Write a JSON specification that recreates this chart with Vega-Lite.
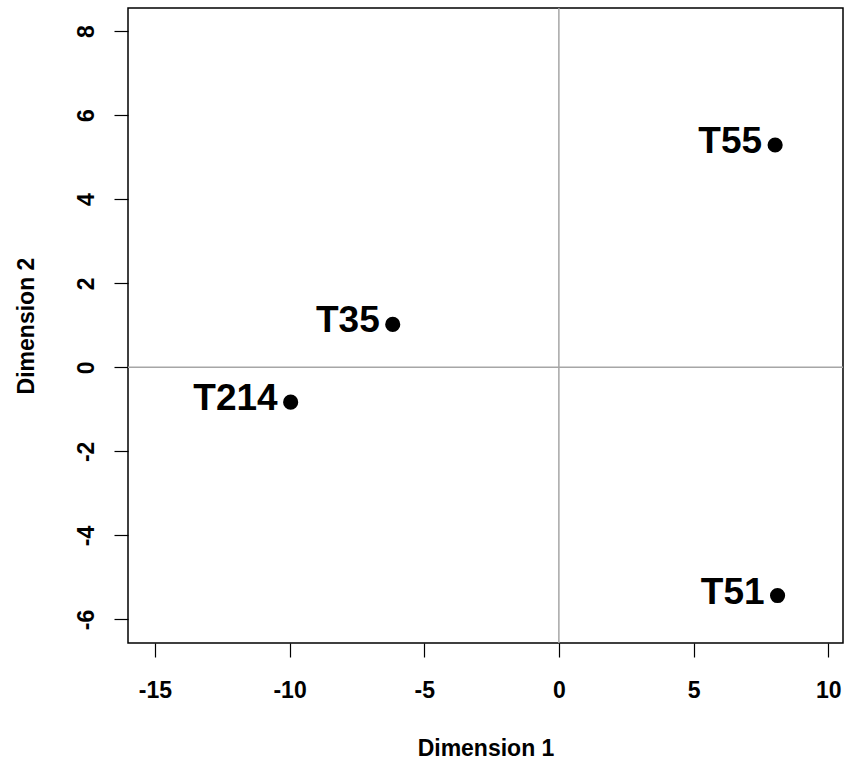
{
  "$schema": "https://vega.github.io/schema/vega-lite/v6.json",
  "width": 715,
  "height": 635,
  "autosize": "none",
  "padding": {"left": 128, "top": 8, "right": 1, "bottom": 118},
  "background": "white",
  "config": {
    "view": {"stroke": "black", "strokeWidth": 1.5},
    "font": "Liberation Sans",
    "axis": {
      "grid": false,
      "domain": false,
      "tickColor": "black",
      "tickSize": 14,
      "tickWidth": 1.2,
      "labelFont": "Liberation Sans",
      "labelFontSize": 23,
      "labelFontWeight": "bold",
      "labelColor": "black",
      "titleFont": "Liberation Sans",
      "titleFontSize": 23,
      "titleFontWeight": "bold",
      "titleColor": "black",
      "labelFlush": false,
      "labelOverlap": false,
      "labelExpr": "'' + datum.value"
    }
  },
  "data": {
    "values": [
      {"label": "T55", "d1": 8.03, "d2": 5.29},
      {"label": "T35", "d1": -6.17, "d2": 1.02},
      {"label": "T214", "d1": -9.96, "d2": -0.83},
      {"label": "T51", "d1": 8.12, "d2": -5.43}
    ]
  },
  "layer": [
    {
      "data": {"values": [{"z": 0}]},
      "mark": {"type": "rule", "color": "#a6a6a6", "strokeWidth": 1.5},
      "encoding": {"x": {"field": "z", "type": "quantitative", "scale": {"domain": [-16.0, 10.55], "nice": false, "zero": false}}}
    },
    {
      "data": {"values": [{"z": 0}]},
      "mark": {"type": "rule", "color": "#a6a6a6", "strokeWidth": 1.5},
      "encoding": {"y": {"field": "z", "type": "quantitative", "scale": {"domain": [-6.56, 8.55], "nice": false, "zero": false}}}
    },
    {
      "mark": {"type": "point", "filled": true, "color": "black", "opacity": 1, "size": 230},
      "encoding": {
        "x": {
          "field": "d1", "type": "quantitative",
          "scale": {"domain": [-16.0, 10.55], "nice": false, "zero": false},
          "axis": {"values": [-15, -10, -5, 0, 5, 10], "title": "Dimension 1", "labelPadding": 40, "labelBaseline": "alphabetic", "titleY": 112, "titleBaseline": "alphabetic"}
        },
        "y": {
          "field": "d2", "type": "quantitative",
          "scale": {"domain": [-6.56, 8.55], "nice": false, "zero": false},
          "axis": {"values": [-6, -4, -2, 0, 2, 4, 6, 8], "title": "Dimension 2", "labelAngle": -90, "labelAlign": "center", "labelBaseline": "alphabetic", "labelPadding": 21, "titleX": -95, "titleBaseline": "alphabetic"}
        }
      }
    },
    {
      "mark": {"type": "text", "align": "right", "baseline": "alphabetic", "dx": -13, "dy": 8, "fontSize": 37, "fontWeight": "bold", "font": "Liberation Sans", "color": "black"},
      "encoding": {
        "x": {"field": "d1", "type": "quantitative"},
        "y": {"field": "d2", "type": "quantitative"},
        "text": {"field": "label"}
      }
    }
  ]
}
